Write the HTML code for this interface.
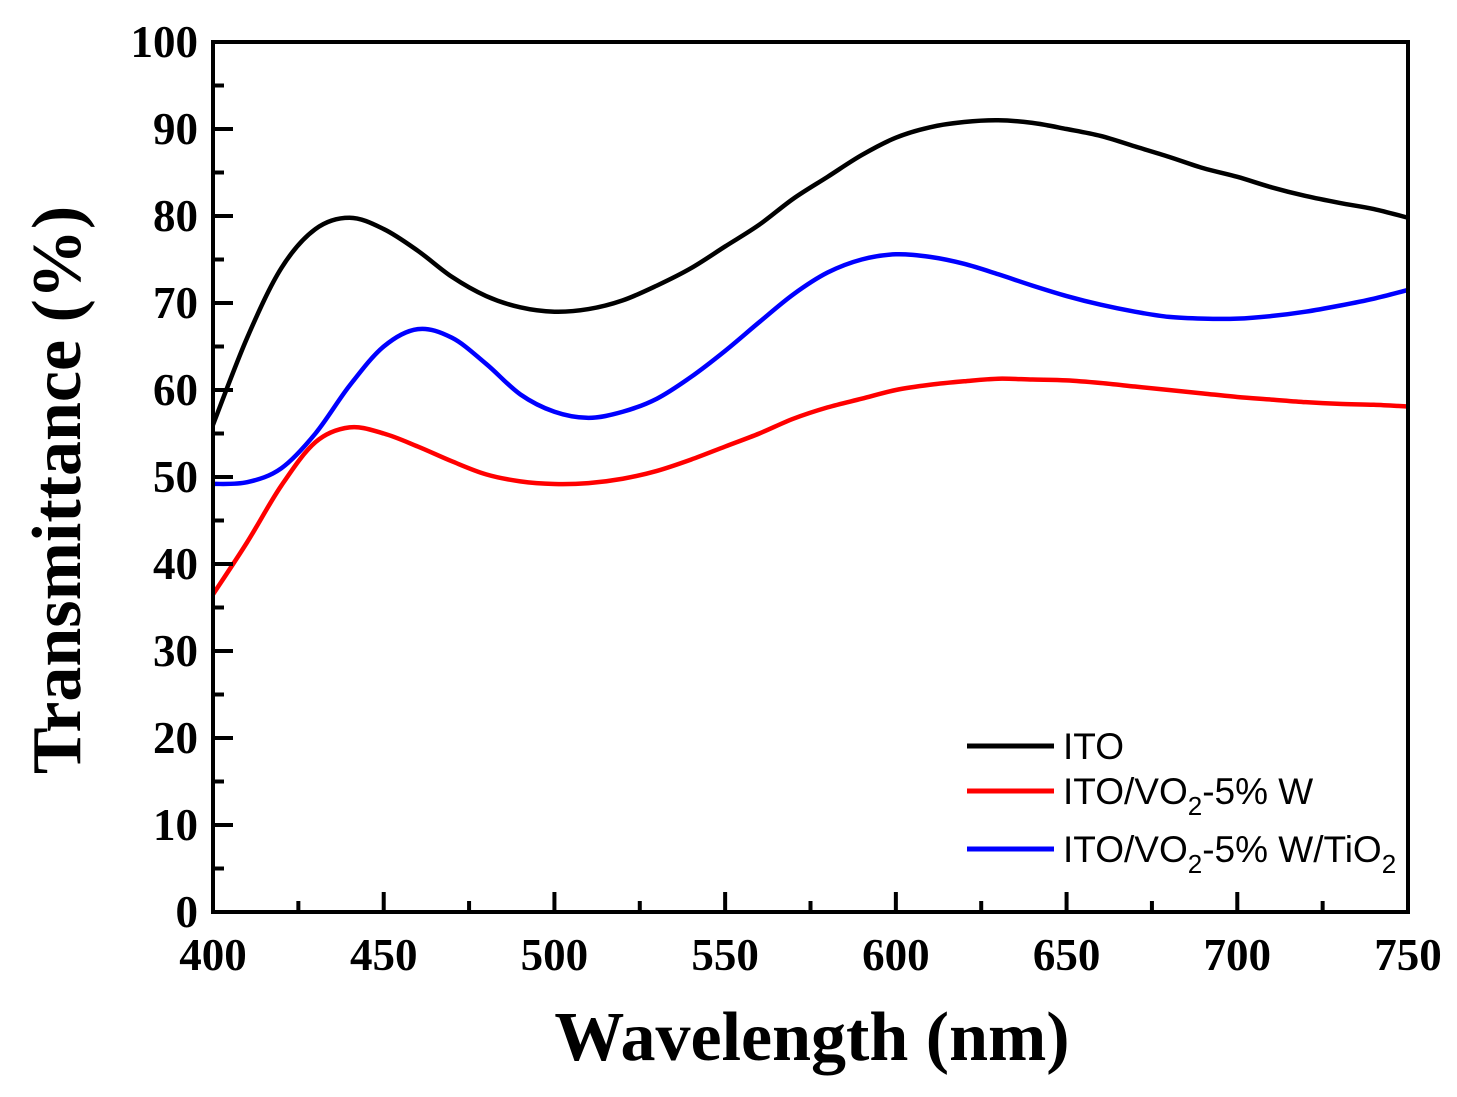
<!DOCTYPE html>
<html><head><meta charset="utf-8"><style>
body{margin:0;background:#fff}
svg{display:block}
.tk{font-family:"Liberation Serif",serif;font-weight:bold;font-size:45px}
.lg{font-family:"Liberation Sans",sans-serif;font-size:37px}
</style></head><body>
<svg id="c" width="1457" height="1097" viewBox="0 0 1457 1097">
<g id="plot"></g>
<text x="812" y="1060" text-anchor="middle" font-family="Liberation Serif,serif" font-weight="bold" font-size="70">Wavelength (nm)</text>
<text transform="translate(80,490) rotate(-90)" text-anchor="middle" font-family="Liberation Serif,serif" font-weight="bold" font-size="70">Transmittance (%)</text>
<g>
<line x1="967" y1="746" x2="1054" y2="746" stroke="#000" stroke-width="5"/>
<text class="lg" x="1063" y="759">ITO</text>
<line x1="967" y1="791" x2="1054" y2="791" stroke="#ff0000" stroke-width="5"/>
<text class="lg" x="1063" y="804">ITO/VO<tspan font-size="26" dy="11">2</tspan><tspan dy="-11">-5% W</tspan></text>
<line x1="967" y1="849" x2="1054" y2="849" stroke="#0000ff" stroke-width="5"/>
<text class="lg" x="1063" y="862">ITO/VO<tspan font-size="26" dy="11">2</tspan><tspan dy="-11">-5% W/TiO</tspan><tspan font-size="26" dy="11">2</tspan></text>
</g>
</svg>
<script>
const wavelengths=[400,410,420,430,440,450,460,470,480,490,500,510,520,530,540,550,560,570,580,590,600,610,620,630,640,650,660,670,680,690,700,710,720,730,740,750];
const itoValues=[56,66,74,78.5,79.8,78.5,76,73,70.8,69.5,69,69.3,70.3,72,74,76.5,79,82,84.5,87,89,90.2,90.8,91,90.7,90,89.2,88,86.8,85.5,84.5,83.3,82.3,81.5,80.8,79.8];
const vo2Values=[36.5,42.5,49,54,55.7,55,53.5,51.8,50.3,49.5,49.2,49.3,49.8,50.7,52,53.5,55,56.7,58,59,60,60.6,61,61.3,61.2,61.1,60.8,60.4,60,59.6,59.2,58.9,58.6,58.4,58.3,58.1];
const tio2Values=[49.2,49.4,51,55,60.5,65,67,66,63,59.5,57.5,56.8,57.5,59,61.5,64.5,67.8,71,73.5,75,75.6,75.3,74.5,73.3,72,70.8,69.8,69,68.4,68.2,68.2,68.5,69,69.7,70.5,71.5];
const xTicks=[400,450,500,550,600,650,700,750];
const yTicks=[0,10,20,30,40,50,60,70,80,90,100];
const NS="http://www.w3.org/2000/svg";
const X0=213,X1=1408,Y0=912,Y1=42;
const xs=v=>X0+(v-400)/350*(X1-X0);
const ys=v=>Y0-v/100*(Y0-Y1);
const g=document.getElementById('plot');
function mk(t,a){const e=document.createElementNS(NS,t);for(const k in a)e.setAttribute(k,a[k]);g.appendChild(e);return e;}
function pathFor(vals){
  const p=wavelengths.map((w,i)=>[xs(w),ys(vals[i])]);
  let d='M'+p[0][0]+','+p[0][1];
  for(let i=0;i<p.length-1;i++){
    const a=p[Math.max(0,i-1)],b=p[i],c=p[i+1],e=p[Math.min(p.length-1,i+2)];
    d+=' C'+(b[0]+(c[0]-a[0])/6)+','+(b[1]+(c[1]-a[1])/6)+' '+(c[0]-(e[0]-b[0])/6)+','+(c[1]-(e[1]-b[1])/6)+' '+c[0]+','+c[1];
  }
  return d;
}
const series=[[itoValues,'#000','series-ito'],[vo2Values,'#ff0000','series-ito-vo2-w'],[tio2Values,'#0000ff','series-ito-vo2-w-tio2']];
for(const s of series){
  const el=mk('path',{d:pathFor(s[0]),fill:'none',stroke:s[1],'stroke-width':4.5});
  
  
}
for(let v=0;v<=100;v+=5){
  const maj=v%10===0;
  const t=mk('line',{x1:X0,x2:X0+(maj?20:11),y1:ys(v),y2:ys(v),stroke:'#000','stroke-width':4});
  
  
}
for(const v of yTicks){
  const t=mk('text',{x:X0-15,y:ys(v)+15,'text-anchor':'end',class:'tk'});t.textContent=v;
  
  
}
for(let v=400;v<=750;v+=25){
  const maj=v%50===0;
  const t=mk('line',{x1:xs(v),x2:xs(v),y1:Y0,y2:Y0-(maj?20:11),stroke:'#000','stroke-width':4});
  
  
}
for(const v of xTicks){
  const t=mk('text',{x:xs(v),y:970,'text-anchor':'middle',class:'tk'});t.textContent=v;
  
  
}
const fr=mk('rect',{x:X0,y:Y1,width:X1-X0,height:Y0-Y1,fill:'none',stroke:'#000','stroke-width':4});


</script>
</body></html>
